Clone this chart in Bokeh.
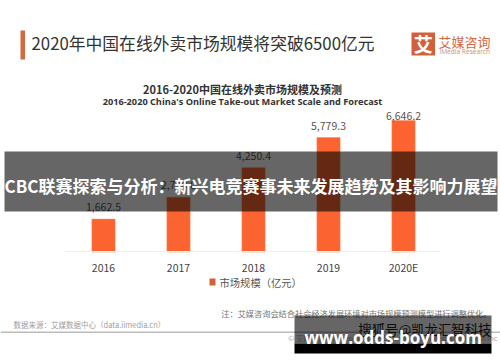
from bokeh.plotting import figure
from bokeh.models import Label, BoxAnnotation, ColumnDataSource, Range1d
from bokeh.embed import file_html
from bokeh.resources import INLINE

years = ["2016", "2017", "2018", "2019", "2020E"]
market = [1662.5, 2770.0, 4250.4, 5779.3, 6646.2]
market_labels = ["1,662.5", "2,770.0", "4,250.4", "5,779.3", "6,646.2"]
headline = "2020年中国在线外卖市场规模将突破6500亿元"
chart_title_cn = "2016-2020中国在线外卖市场规模及预测"
chart_title_en = "2016-2020 China's Online Take-out Market Scale and Forecast"
legend_text = "市场规模（亿元）"
note_text = "注：艾媒咨询会结合社会经济发展环境对市场规模预测模型进行调整优化。"
source_text = "数据来源：艾媒数据中心（data.iimedia.cn）"
footer_text = "© 艾媒报告中心 report.iimedia.cn ©2020 iiMedia Research Inc"
banner_text = "CBC联赛探索与分析：新兴电竞赛事未来发展趋势及其影响力展望"
site_text = "www.odds-boyu.com"
CJK = "Noto Sans CJK SC"
W, H = 500, 362

idx = list(range(len(years)))
label_offsets = [-8, -8, -8, -8, 0]
src = ColumnDataSource(dict(x=idx, y=market, t=market_labels, off=label_offsets))
p = figure(width=W, height=H, x_range=Range1d(-1.373, 5.293),
           y_range=Range1d(-5581, 12702), output_backend="svg", toolbar_location=None,
           min_border=0, outline_line_color=None,
           background_fill_color="white", border_fill_color="white")
p.grid.visible = False
p.yaxis.visible = False
ax = p.xaxis[0]
ax.fixed_location = 0
ax.bounds = (-0.507, 4.49)
ax.ticker = idx
ax.major_label_overrides = {i: y for i, y in zip(idx, years)}
ax.axis_line_color = "#eeeeee"
ax.major_tick_line_color = None
ax.minor_tick_line_color = None
ax.major_label_text_font = CJK
ax.major_label_text_font_size = "10.5px"
ax.major_label_text_color = "#444444"
ax.major_label_standoff = 2

p.vbar(x="x", top="y", width=0.31, source=src, fill_color="#fb6430", line_color="#fb8a60", line_width=0.5)
p.text(x="x", y="y", text="t", source=src, text_align="center", text_baseline="bottom",
       y_offset="off", text_font_size="10.5px", text_color="#555555", text_font={"value": CJK})


def sy(y):
    return H - y


def lab(x, y, text, size, color, align="left", style="normal", font=CJK):
    p.add_layout(Label(x=x, y=sy(y), x_units="screen", y_units="screen", text=text,
                       text_font=font, text_font_size=f"{size}px", text_color=color,
                       text_align=align, text_baseline="middle", text_font_style=style))


def box(x0, x1, y0, y1, color, alpha=1.0):
    p.add_layout(BoxAnnotation(left=x0, right=x1, top=sy(y0), bottom=sy(y1),
                               left_units="screen", right_units="screen", top_units="screen",
                               bottom_units="screen", fill_color=color, fill_alpha=alpha,
                               line_color=None))


box(20, 24.5, 30, 59, "#d2693f")
lab(31, 42, headline, 16.8, "#333333")
box(411, 434.5, 32, 55, "#d2613a")
lab(422.7, 43, "艾", 19, "#ffffff", "center", "bold")
lab(438, 40.5, "艾媒咨询", 13, "#d2693f")
lab(439, 50.5, "iMedia Research", 6.6, "#c98f78", font="Open Sans")
lab(242, 88.5, chart_title_cn, 11, "#333333", "center", "bold")
lab(242, 101, chart_title_en, 9.2, "#333333", "center", "bold", font="Open Sans")
box(209, 215, 278, 285, "#d2613a")
lab(219, 281.5, legend_text, 10.3, "#555555")
lab(491, 312.5, note_text, 8.2, "#777777", "right")
lab(13, 323.5, source_text, 7.5, "#a0a0a0")
box(0, 500, 331, 332.5, "#bbbbbb")
lab(497, 337, footer_text, 7.4, "#aaaaaa", "right")
lab(491, 328.5, "搜狐号@凯龙汇智科技", 13.4, "#222222", "right")

box(4, 497, 151, 211, "#000000", 0.6)
lab(4, 185, banner_text, 17, "#ffffff", style="bold")
box(294, 491, 315, 343, "#000000", 0.6)
box(294, 491, 343, 353, "#000000")
lab(304, 336.5, site_text, 17, "#ffffff", style="bold", font="Open Sans")

open("out.html", "w").write(file_html(p, INLINE))
